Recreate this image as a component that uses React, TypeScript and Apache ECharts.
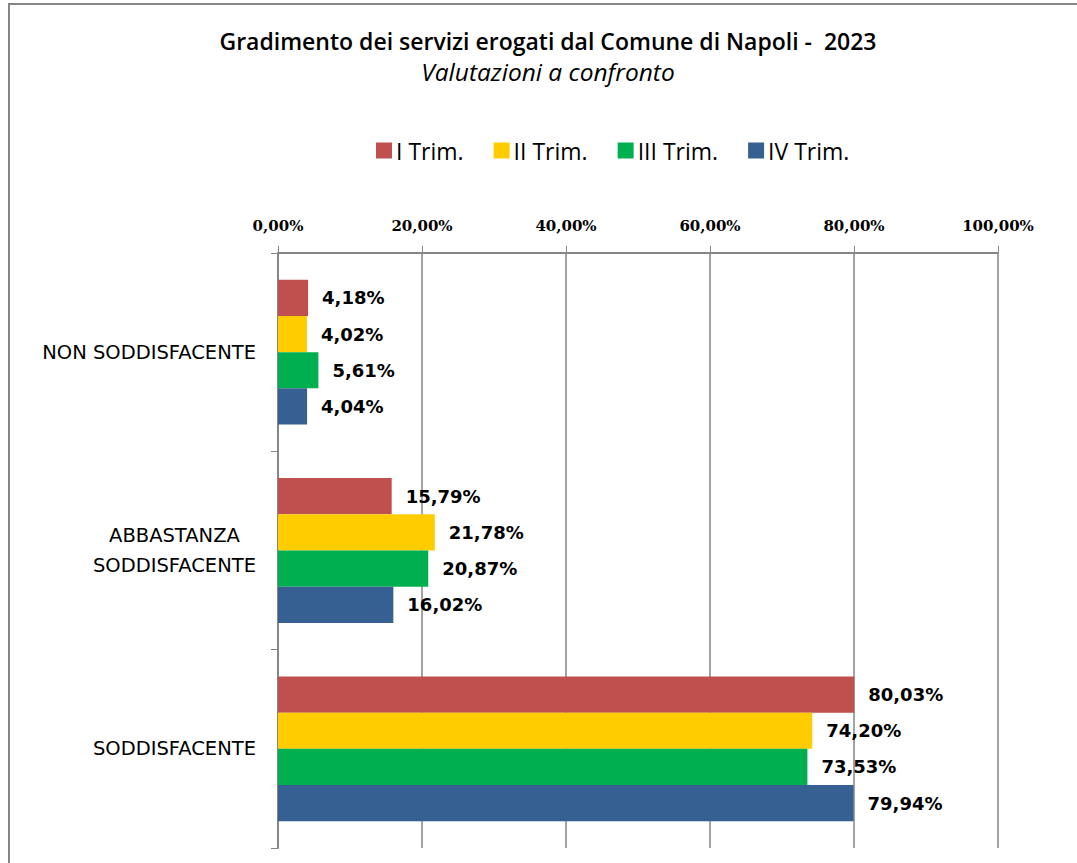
import React, { useEffect, useRef } from "react";
import * as echarts from "echarts";

const categories = ["NON SODDISFACENTE", "ABBASTANZA\nSODDISFACENTE", "SODDISFACENTE"];
const seriesNames = ["I Trim.", "II Trim.", "III Trim.", "IV Trim."];
const trim1 = [4.18, 15.79, 80.03];
const trim2 = [4.02, 21.78, 74.2];
const trim3 = [5.61, 20.87, 73.53];
const trim4 = [4.04, 16.02, 79.94];
const colors = ["#C0504D", "#FFCC00", "#00B050", "#376092"];

const fmt = (v: number) => v.toFixed(2).replace(".", ",") + "%";

export default function App() {
  const ref = useRef<HTMLDivElement>(null);
  useEffect(() => {
    if (!ref.current) return;
    const chart = echarts.init(ref.current, null, { renderer: "svg" });
    const values = [trim1, trim2, trim3, trim4];
    chart.setOption({
      animation: false,
      backgroundColor: "#ffffff",
      graphic: [
        {
          type: "rect",
          shape: { x: 9, y: 4, width: 1090, height: 880 },
          style: { fill: "none", stroke: "#868686", lineWidth: 2 },
          silent: true,
        },
      ],
      title: {
        text: "Gradimento dei servizi erogati dal Comune di Napoli -  2023",
        subtext: "Valutazioni a confronto",
        left: 548,
        textAlign: "center",
        top: 29,
        itemGap: 7,
        padding: 0,
        textStyle: { fontFamily: "Open Sans", fontSize: 23, fontWeight: 600, color: "#000" },
        subtextStyle: { fontFamily: "Open Sans", fontSize: 24.5, fontStyle: "italic", color: "#000" },
      },
      legend: {
        top: 139,
        left: 376,
        padding: 0,
        itemWidth: 16,
        itemHeight: 16,
        itemGap: 30,
        icon: "rect",
        textStyle: { fontFamily: "Open Sans", fontSize: 23, color: "#000", padding: [0, 0, 0, -1] },
        data: seriesNames,
      },
      grid: { left: 278, right: 79, top: 253, bottom: 15, containLabel: false },
      xAxis: {
        type: "value",
        position: "top",
        min: 0,
        max: 100,
        interval: 20,
        axisLine: { show: true, lineStyle: { color: "#868686", width: 2 } },
        axisTick: { show: true, length: 7, lineStyle: { color: "#868686" } },
        axisLabel: {
          formatter: (v: number) => fmt(v),
          fontFamily: "DejaVu Serif",
          fontWeight: "bold",
          fontSize: 15,
          color: "#000",
          margin: 20,
        },
        splitLine: { show: true, lineStyle: { color: "#868686", width: 1.5 } },
      },
      yAxis: {
        type: "category",
        inverse: true,
        data: categories,
        axisLine: { show: true, lineStyle: { color: "#868686", width: 2 } },
        axisTick: { show: true, length: 7, alignWithLabel: false, lineStyle: { color: "#868686" } },
        axisLabel: {
          formatter: (v: string) => v.split("\n").map((s) => `{c|${s}}`).join("\n"),
          align: "right",
          margin: 22,
          rich: {
            c: {
              align: "center",
              fontFamily: "DejaVu Sans",
              fontSize: 19.5,
              lineHeight: 30,
              color: "#000",
            },
          },
        },
        splitLine: { show: false },
      },
      series: seriesNames.map((name, i) => ({
        name,
        type: "bar",
        data: values[i],
        barGap: "0%",
        barCategoryGap: "27%",
        itemStyle: { color: colors[i] },
        label: {
          show: true,
          position: "right",
          distance: 14,
          formatter: (p: any) => fmt(p.value),
          fontFamily: "DejaVu Sans",
          fontWeight: "bold",
          fontSize: 18,
          color: "#000",
        },
      })),
    });
    return () => chart.dispose();
  }, []);
  return (
    <div
      ref={ref}
      style={{ position: "fixed", left: 0, top: 0, width: 1077, height: 863 }}
    />
  );
}
